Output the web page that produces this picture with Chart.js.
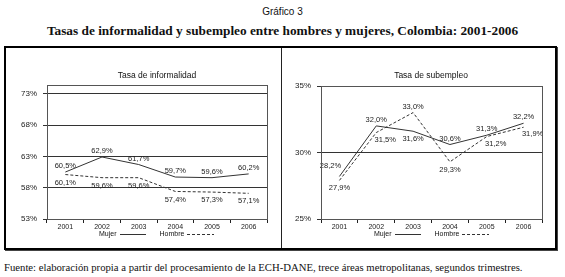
<!DOCTYPE html>
<html lang="es">
<head>
<meta charset="utf-8">
<title>Gráfico 3</title>
<script src="https://cdn.jsdelivr.net/npm/chart.js@4.4.1/dist/chart.umd.min.js"></script>
<style>
  html, body { margin: 0; padding: 0; background: #fff; }
  body { width: 565px; height: 277px; position: relative; overflow: hidden; font-family: "Liberation Sans", Arial, sans-serif; color: #111; }
  .abs { position: absolute; }
  #sup { left: 0; width: 565px; top: 6px; text-align: center; font-size: 10px; line-height: 12px; }
  #titulo { left: 0; width: 565px; top: 23px; text-align: center; font-family: "Liberation Serif", "Times New Roman", serif; font-weight: bold; font-size: 13.3px; line-height: 16px; }
  #caja { left: 4px; top: 46px; width: 549px; height: 200px; border: 2px solid #000; box-shadow: 1px 1px 0 #444; }
  #divisor { left: 281px; top: 48px; width: 1px; height: 200px; background: #222; }
  canvas { position: absolute; }
  .ptitulo { font-size: 8.5px; line-height: 10px; text-align: center; width: 160px; top: 70px; }
  .leyenda { top: 229px; font-size: 7px; line-height: 10px; display: flex; align-items: center; white-space: nowrap; }
  .leyenda .sw { display: inline-block; width: 26px; height: 1px; margin: 0 14px 0 3px; background: #333; }
  .leyenda .sw.dash { width: 27px; margin-right: 0; background: repeating-linear-gradient(90deg, #333 0 3px, transparent 3px 5px); }
  #fuente { left: 4px; top: 261px; font-family: "Liberation Serif", "Times New Roman", serif; font-size: 10.7px; line-height: 12px; white-space: nowrap; }
</style>
</head>
<body>
<div id="sup" class="abs">Gráfico 3</div>
<div id="titulo" class="abs">Tasas de informalidad y subempleo entre hombres y mujeres, Colombia: 2001-2006</div>
<div id="caja" class="abs"></div>
<div id="divisor" class="abs"></div>
<canvas id="chart-inf" width="275" height="200" style="left:6px;top:48px;width:275px;height:200px"></canvas>
<canvas id="chart-sub" width="275" height="200" style="left:282px;top:48px;width:275px;height:200px"></canvas>
<div class="abs ptitulo" style="left:77px">Tasa de informalidad</div>
<div class="abs ptitulo" style="left:351px">Tasa de subempleo</div>
<div class="abs leyenda" style="left:99px"><span>Mujer</span><span class="sw"></span><span>Hombre</span><span class="sw dash"></span></div>
<div class="abs leyenda" style="left:374px"><span>Mujer</span><span class="sw"></span><span>Hombre</span><span class="sw dash"></span></div>
<div id="fuente" class="abs">Fuente: elaboración propia a partir del procesamiento de la ECH-DANE, trece áreas metropolitanas, segundos trimestres.</div>

<script>
// datos
var years = ['2001', '2002', '2003', '2004', '2005', '2006'];

var informalMujer = [60.5, 62.9, 61.7, 59.7, 59.6, 60.2];
var informalHombre = [60.1, 59.6, 59.6, 57.4, 57.3, 57.1];
var informalTicks = [53, 58, 63, 68, 73];

var subempleoMujer = [28.2, 32.0, 31.6, 30.6, 31.3, 32.2];
var subempleoHombre = [27.9, 31.5, 33.0, 29.3, 31.2, 31.9];
var subempleoTicks = [25, 30, 35];

// ubicacion de las etiquetas de valor
var LABEL_OFF = {
  above: [0, -6],
  below: [0, 8],
  aboveLeft: [-9, -11],
  belowRight: [9, 7]
};

function pct(v) {
  return v.toFixed(1).replace('.', ',') + '%';
}

// etiquetas de datos y marco del area de trazado
var valueLabels = {
  id: 'valueLabels',
  afterDatasetsDraw: function(chart) {
    var ctx = chart.ctx;
    ctx.save();
    ctx.font = '7.5px "Liberation Sans", Arial, sans-serif';
    ctx.fillStyle = '#222';
    ctx.textAlign = 'center';
    ctx.textBaseline = 'middle';
    chart.data.datasets.forEach(function(ds, di) {
      var meta = chart.getDatasetMeta(di);
      meta.data.forEach(function(pt, i) {
        var off = LABEL_OFF[ds.labelPos[i]] || LABEL_OFF.above;
        ctx.fillText(pct(ds.data[i]), pt.x + off[0], pt.y + off[1]);
      });
    });
    ctx.restore();
  },
  afterDraw: function(chart) {
    var a = chart.chartArea;
    var ctx = chart.ctx;
    ctx.save();
    ctx.strokeStyle = '#555';
    ctx.lineWidth = 1;
    ctx.strokeRect(Math.round(a.left) + 0.5, Math.round(a.top) + 0.5, Math.round(a.right - a.left), Math.round(a.bottom - a.top));
    ctx.restore();
  }
};

function makeChart(id, mujer, hombre, ticks, yMax, posM, posH, pad) {
  var font = { family: '"Liberation Sans", Arial, sans-serif', size: 7 };
  return new Chart(document.getElementById(id), {
    type: 'line',
    data: {
      labels: years,
      datasets: [{
        label: 'Mujer',
        data: mujer,
        borderColor: '#333',
        borderWidth: 1,
        pointRadius: 0,
        tension: 0,
        labelPos: posM
      }, {
        label: 'Hombre',
        data: hombre,
        borderColor: '#333',
        borderWidth: 1,
        borderDash: [3, 2],
        pointRadius: 0,
        tension: 0,
        labelPos: posH
      }]
    },
    options: {
      responsive: false,
      animation: false,
      events: [],
      layout: { padding: pad },
      plugins: {
        legend: { display: false },
        title: { display: false },
        tooltip: { enabled: false }
      },
      scales: {
        x: {
          offset: true,
          grid: { offset: true, drawOnChartArea: false, tickLength: 4, color: '#222' },
          border: { color: '#222' },
          ticks: { color: '#222', font: font, padding: 0, maxRotation: 0 },
          afterFit: function(s) { s.height = 29; }
        },
        y: {
          min: ticks[0],
          max: yMax,
          grid: { color: '#333', tickLength: 4 },
          border: { color: '#222' },
          ticks: {
            color: '#222',
            font: { family: font.family, size: 8 },
            padding: 6,
            callback: function(v) { return v + '%'; }
          },
          afterBuildTicks: function(s) {
            s.ticks = ticks.map(function(v) { return { value: v }; });
          },
          afterFit: function(s) { s.width = 35; }
        }
      }
    },
    plugins: [valueLabels]
  });
}

makeChart('chart-inf', informalMujer, informalHombre, informalTicks, 74.4,
  ['above', 'above', 'above', 'above', 'above', 'above'],
  ['below', 'below', 'below', 'below', 'below', 'below'],
  { top: 37, left: 6, right: 14, bottom: 0 });

makeChart('chart-sub', subempleoMujer, subempleoHombre, subempleoTicks, 35,
  ['aboveLeft', 'above', 'below', 'above', 'above', 'above'],
  ['below', 'belowRight', 'above', 'below', 'belowRight', 'belowRight'],
  { top: 38, left: 4, right: 15, bottom: 0 });
</script>
</body>
</html>
